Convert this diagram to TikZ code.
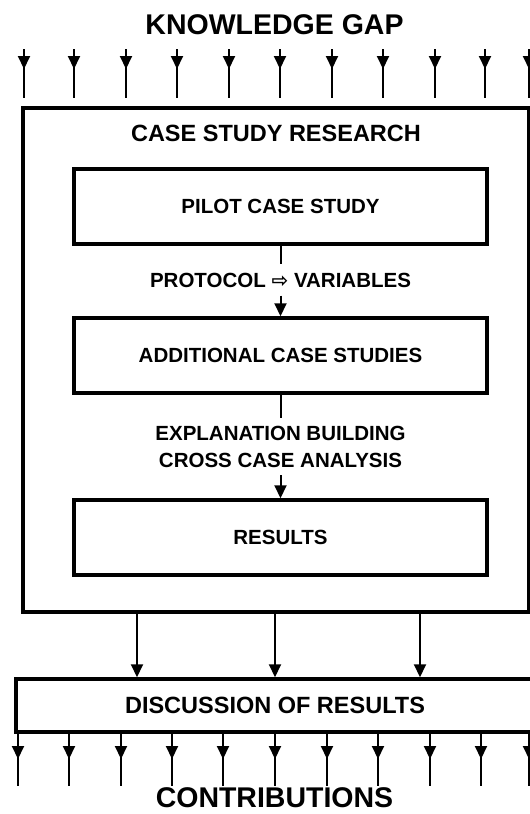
\documentclass[tikz,border=0pt]{standalone}
\usepackage{fontspec}
\setmainfont{Liberation Sans}
\newfontfamily\arrowfont{DejaVu Sans}
\usetikzlibrary{arrows.meta}

\begin{document}
\begin{tikzpicture}[x=1pt,y=-1pt,font=\bfseries]
    \tikzstyle{big box}=[draw,line width=3.5pt,rectangle,inner sep=0]
    \tikzstyle{case box}=[big box,minimum width=413pt,minimum height=75pt,font=\bfseries\fontsize{20.5}{24}\selectfont]
    \tikzstyle{link text}=[inner sep=8pt,align=center,font=\bfseries\fontsize{20.5}{27}\selectfont]
    \tikzstyle{title}=[inner sep=0,font=\bfseries\fontsize{28.5}{34}\selectfont]
    \tikzstyle{flow}=[line width=2pt]
    \tikzstyle{head}=[line width=2pt,-{Triangle[length=13pt,width=12pt]}]

    \useasboundingbox (0,0) rectangle (530,814);

    \node(gap)[title] at (274.5,24.5){KNOWLEDGE GAP};

    \node(csr)[big box,minimum width=506pt,minimum height=504pt] at (276,360){};
    \node(csrtitle)[inner sep=0,font=\bfseries\fontsize{23.5}{28}\selectfont] at (276,133){CASE STUDY RESEARCH};

    \node(pilot)[case box] at (280.5,206.5){PILOT CASE STUDY};
    \node(proto)[link text,text height=15pt,text depth=0pt] at (280.5,280)
        {PROTOCOL {\arrowfont\fontsize{20}{20}\selectfont ⇨} VARIABLES};
    \node(add)[case box] at (280.5,355.5){ADDITIONAL CASE STUDIES};
    \node(expl)[link text] at (280.5,446.5){EXPLANATION BUILDING\\CROSS CASE ANALYSIS};
    \node(res)[case box] at (280.5,537.5){RESULTS};

    \draw[flow](pilot)--(proto);
    \draw[head](proto)--(add);
    \draw[flow](add)--(expl);
    \draw[head](expl)--(res);

    \node(disc)[big box,minimum width=518pt,minimum height=53pt,font=\bfseries\fontsize{23.5}{28}\selectfont] at (275,705.5){DISCUSSION OF RESULTS};

    % knowledge gap in
    \foreach \x in {24,74,126,177,229,280,332,383,435,485,529}{
        \coordinate(in\x) at (\x,49);
        \coordinate(on\x) at (\x,98);
        \draw[flow](in\x)--(on\x);
        \draw[head](in\x)--++(0,20);
    }

    % results to discussion
    \foreach \x in {137,275,420}{
        \coordinate(r\x) at (\x,612);
        \draw[head](r\x)--(r\x |- disc.north);
    }

    % contributions out
    \foreach \x in {18,69,121,172,223,275,327,378,430,481,529}{
        \coordinate(out\x) at (\x,732);
        \coordinate(end\x) at (\x,786);
        \draw[flow](out\x)--(end\x);
        \draw[head](out\x)--++(0,27);
    }

    \node(contrib)[title] at (274.5,798){CONTRIBUTIONS};
\end{tikzpicture}
\end{document}
